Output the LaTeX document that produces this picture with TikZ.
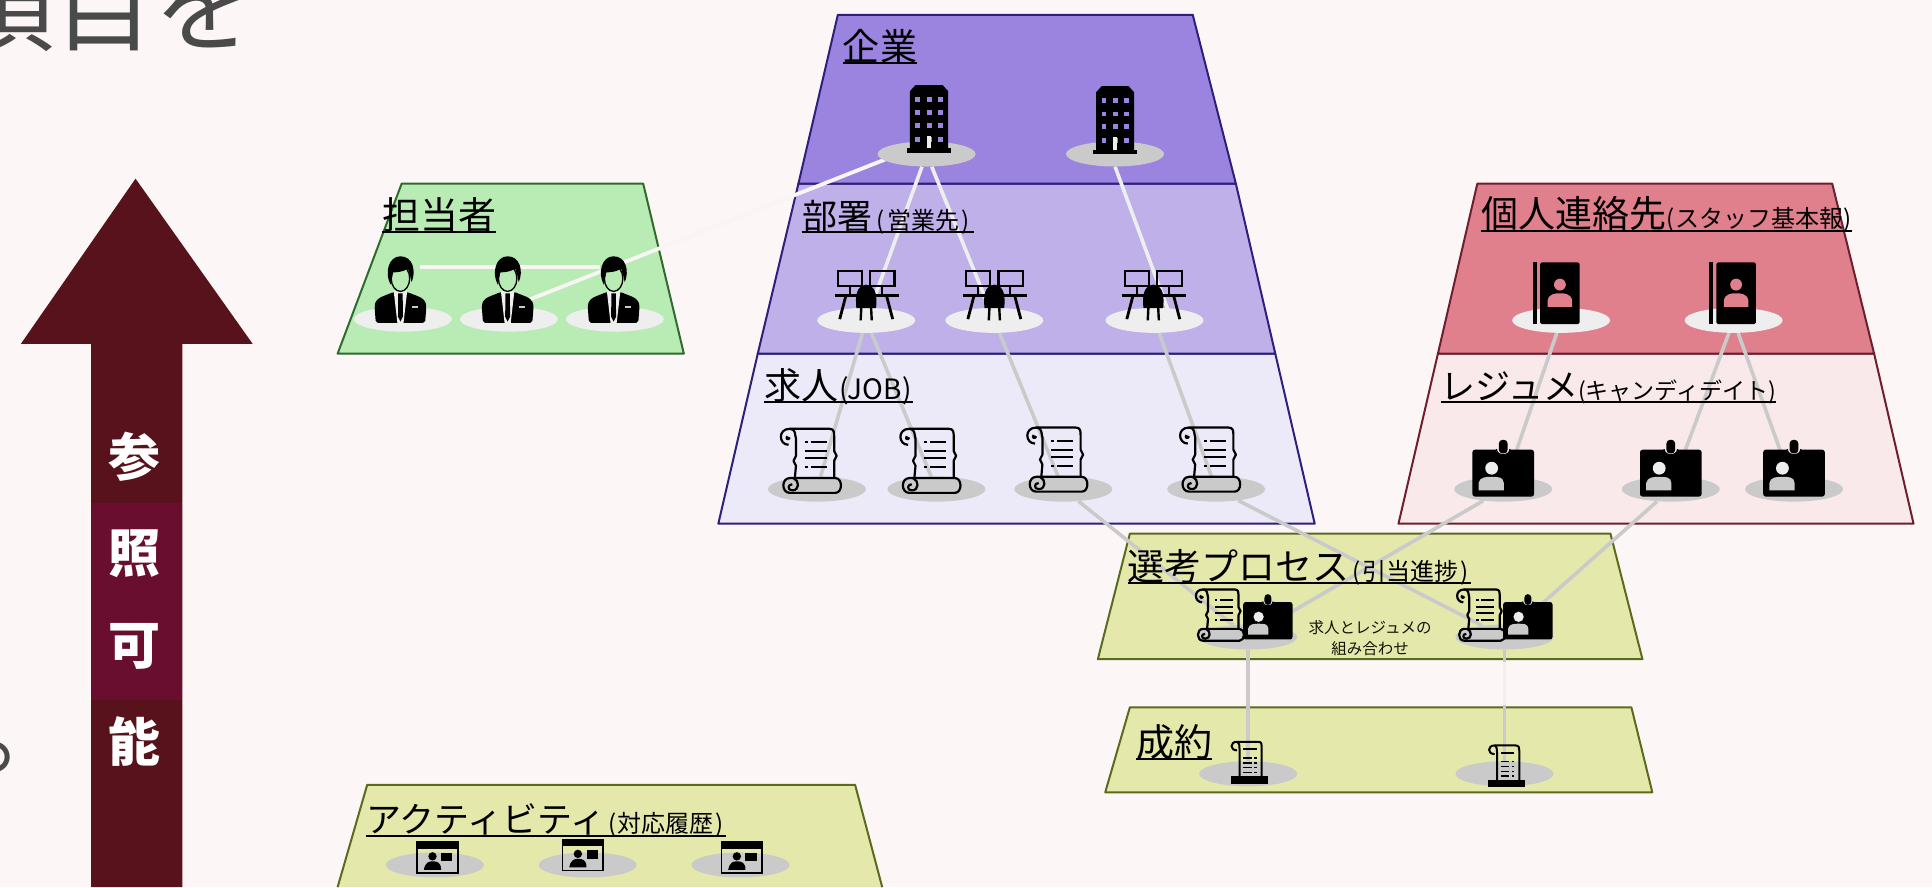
\documentclass[tikz,border=0pt]{standalone}
\usepackage{fontspec}
\setmainfont{Noto Sans CJK JP}
\usetikzlibrary{shapes.geometric,calc}
\definecolor{pagebg}{HTML}{FCF6F6}
\definecolor{titlegray}{HTML}{4A4A4A}
\definecolor{arrowdark}{HTML}{58121C}
\definecolor{arrowmid}{HTML}{6A0E30}
\definecolor{purpleA}{HTML}{9B84DF}
\definecolor{purpleB}{HTML}{BFB0E9}
\definecolor{purpleC}{HTML}{ECEAF8}
\definecolor{navyline}{HTML}{2E1F7A}
\definecolor{greenA}{HTML}{B8ECB4}
\definecolor{greenline}{HTML}{2F6B2F}
\definecolor{redA}{HTML}{E0808C}
\definecolor{redB}{HTML}{F9E9EA}
\definecolor{redline}{HTML}{6E1F2F}
\definecolor{oliveA}{HTML}{E4E8AA}
\definecolor{oliveline}{HTML}{5C6A1E}
\definecolor{ellD}{HTML}{CACACA}
\definecolor{ellL}{HTML}{EEEEEE}
\definecolor{paleLink}{HTML}{F8F5F3}
\pgfdeclarelayer{bglayer}
\pgfdeclarelayer{connlayer}
\pgfsetlayers{bglayer,connlayer,main}
\newcommand{\ulabel}[2]{\setbox0=\hbox{#1#2}\rlap{\rule[-3.6pt]{\wd0}{1.7pt}}\box0}
\newcommand{\bigt}[1]{{\fontsize{37pt}{37pt}\selectfont #1}}
\newcommand{\subt}[2][3pt]{{\fontsize{24pt}{24pt}\selectfont\hspace{#1}(\hspace{\dimexpr#1/2\relax}#2\hspace{\dimexpr#1/2\relax})\hspace{#1}}}
\tikzset{
  x=1.232pt,y=-1.232pt,
  tierbox/.style={line width=2pt,line join=round},
  ellD/.style={ellipse,fill=ellD,inner sep=0pt,minimum width=98pt,minimum height=25pt},
  ellL/.style={ellipse,fill=ellL,inner sep=0pt,minimum width=98pt,minimum height=25pt},
  lbl/.style={anchor=base west,inner sep=0pt,text=black},
  arrowtxt/.style={text=white,font=\fontsize{52pt}{52pt}\selectfont\bfseries,inner sep=0pt},
  linkL/.style={draw=ellL,line width=3.6pt},
  linkD/.style={draw=ellD,line width=3.6pt},
  linkW/.style={draw=paleLink,line width=3.8pt},
  pics/building/.style={code={
    \fill[black] (-18,0) rectangle (18,-3.5);
    \fill[black] (-15.5,-2) -- (-15.5,-50) -- (-11,-55) -- (11,-55) -- (15.5,-50) -- (15.5,-2) -- cycle;
    \foreach \yy in {-43.5,-32.5,-22,-11}{\foreach \xx in {-9,0,9}{\fill[#1] (\xx-2,\yy-2) rectangle (\xx+2,\yy+2);}}
    \fill[ellL] (-1.8,-14) rectangle (1.8,-3.5);
  }},
  pics/desks/.style={code={
    \draw[black,line width=2.2pt] (-23,-40) rectangle (-3.3,-27.6);
    \draw[black,line width=2.2pt] (3.3,-40) rectangle (23,-27.6);
    \draw[black,line width=2.2pt] (-13,-27.6) -- (-13,-21) (13,-27.6) -- (13,-21);
    \draw[black,line width=2.8pt] (-25.5,-20.5) -- (-6,-20.5) (6,-20.5) -- (26.5,-20.5);
    \draw[black,line width=2.8pt] (-16.5,-20) -- (-21.5,-1) (16.5,-20) -- (21.5,-1);
    \fill[black] (-8,-10) .. controls (-9,-20) and (-8,-28) .. (0,-29) .. controls (8,-28) and (9,-20) .. (8,-10) -- cycle;
    \draw[black,line width=2.4pt] (-4,-10) -- (-4.5,0) (4,-10) -- (4.5,0);
  }},
  pics/scroll/.style={code={
    \begin{scope}[black,line width=2.2pt,line join=round]
    \draw (-18,-39) .. controls (-26,-39) and (-27,-52) .. (-17,-52) -- (15,-52) .. controls (19,-52) and (19,-49) .. (19,-46) -- (19,-34) -- (21,-30) -- (19,-26) -- (19,-12);
    \draw (-17,-52) .. controls (-12,-52) and (-13,-47) .. (-12,-44) -- (-12,-30) -- (-14,-26) -- (-12,-22) -- (-13,-11);
    \draw (-19,-46) .. controls (-21,-44) and (-18,-42) .. (-17,-45);
    \filldraw[fill=ellD] (-17,0) -- (20,0) .. controls (26,0) and (26,-12) .. (20,-12) -- (-17,-12) .. controls (-24,-12) and (-24,0) .. (-17,0) -- cycle;
    \draw (-14,-12) .. controls (-9,-10) and (-9,-2) .. (-15,-2) .. controls (-19,-2) and (-19,-7) .. (-15,-7);
    \end{scope}
    \foreach \yy/\aa in {-41/1,-34/0,-28/0,-21/1}{
      \ifnum\aa=1
        \draw[black,line width=1.9pt] (-5,\yy) -- (-2.5,\yy) (0,\yy) -- (13,\yy);
      \else
        \draw[black,line width=1.9pt] (-5,\yy) -- (13,\yy);
      \fi}
  }},
  pics/badge/.style={code={
    \fill[black,rounded corners=2.5pt] (-25,0) rectangle (25,-38);
    \draw[ellL,line width=1.2pt] (-5.5,-38.5) .. controls (-5.5,-32.5) and (5.5,-32.5) .. (5.5,-38.5);
    \fill[black,rounded corners=3.5pt] (-3.5,-35) rectangle (3.5,-46);
    \fill[ellL] (-9.4,-23) circle[radius=5.2];
    \fill[ellD] (-20,-5) -- (-20,-11) .. controls (-19,-16) and (-14,-16) .. (-9.5,-16) .. controls (-4,-16) and (0,-16) .. (0.5,-11) -- (0.5,-5) -- cycle;
    \draw[ellD,line width=1.8pt] (5,-23) -- (20,-23) (5,-15) -- (20,-15) (5,-7) -- (20,-7);
  }},
  pics/book/.style={code={
    \fill[black] (-19,0) rectangle (-15.5,-50);
    \fill[black,rounded corners=1.5pt] (-13,0) rectangle (19,-50);
    \fill[#1] (3,-32) circle[radius=4.8];
    \fill[#1] (-7,-14) -- (-7,-19) .. controls (-6,-25) and (0,-25) .. (3,-25) .. controls (6,-25) and (12,-25) .. (13,-19) -- (13,-14) -- cycle;
  }},
  pics/person/.style={code={
    \fill[black,rounded corners=2pt] (-20,0) -- (-21,-13) .. controls (-20,-21) and (-12,-22) .. (-6,-25) -- (6,-25) .. controls (12,-22) and (20,-21) .. (21,-13) -- (20,0) -- cycle;
    \fill[ellL] (-5.5,-26) -- (5.5,-26) -- (2.5,0) -- (-2.5,0) -- cycle;
    \fill[black] (-1.8,-24) -- (1.8,-24) -- (2,-5) -- (0,-1) -- (-2,-5) -- cycle;
    \filldraw[fill=#1,draw=black,line width=1.3pt] (0,-36) ellipse[x radius=7.5,y radius=10.5];
    \fill[black] (-8,-31) .. controls (-13,-40) and (-10,-54) .. (0,-54) .. controls (10,-54) and (13,-42) .. (9,-33) .. controls (8,-38) and (7,-42) .. (6,-44) .. controls (2,-41) and (-4,-41) .. (-6,-41) -- cycle;
    \fill[ellD] (9,-14) rectangle (14,-12);
  }},
  pics/shortscroll/.style={code={
    \fill[black] (-14,0) rectangle (16,-6);
    \draw[black,line width=2pt,line join=round] (-9,-27) .. controls (-15,-27) and (-15,-34) .. (-9,-34) -- (8,-34) .. controls (11,-34) and (11,-32) .. (11,-30) -- (11,-6) (-9,-34) .. controls (-7,-33) and (-7,-30) .. (-7,-28) -- (-7,-6);
    \draw[black,line width=1.6pt] (-4,-28) -- (7,-28);
    \foreach \yy in {-21,-17,-13,-9}{\draw[black,line width=1.6pt] (-4,\yy) -- (3,\yy) (5,\yy) -- (7,\yy);}
  }},
  pics/winicon/.style={code={
    \draw[black,line width=1.6pt] (-16.5,-25.5) rectangle (16.5,-0.5);
    \fill[black] (-17,-26) rectangle (17,-20);
    \fill[black] (-4,-14) circle[radius=3.4];
    \fill[black] (-11,-3) .. controls (-10,-9) and (-7,-10) .. (-4,-10) .. controls (0,-10) and (3,-9) .. (3,-3) -- cycle;
    \fill[black] (3,-17) rectangle (12,-10);
  }},
}
\begin{document}
\begin{tikzpicture}
\useasboundingbox (0,0) rectangle (1568,720);
\begin{pgfonlayer}{bglayer}
  \fill[pagebg] (0,0) rectangle (1568,720);
  % arrow
  \fill[arrowdark] (110,145) -- (205,279) -- (148,279) -- (148,720) -- (74,720) -- (74,279) -- (17,279) -- cycle;
  \fill[arrowmid] (74,408) rectangle (148,568);
  % tiers
  \filldraw[tierbox,fill=purpleC,draw=navyline] (615,287) -- (1035,287) -- (1067,425) -- (583,425) -- cycle;
  \filldraw[tierbox,fill=purpleB,draw=navyline] (648,149) -- (1003,149) -- (1035,287) -- (615,287) -- cycle;
  \filldraw[tierbox,fill=purpleA,draw=navyline] (680,12) -- (968,12) -- (1003,149) -- (648,149) -- cycle;
  \filldraw[tierbox,fill=greenA,draw=greenline] (326,149) -- (522,149) -- (555,287) -- (274,287) -- cycle;
  \filldraw[tierbox,fill=redB,draw=redline] (1167,287) -- (1521,287) -- (1553,425) -- (1135,425) -- cycle;
  \filldraw[tierbox,fill=redA,draw=redline] (1199,149) -- (1487,149) -- (1521,287) -- (1167,287) -- cycle;
  \filldraw[tierbox,fill=oliveA,draw=oliveline] (917,433) -- (1307,433) -- (1333,535) -- (891,535) -- cycle;
  \filldraw[tierbox,fill=oliveA,draw=oliveline] (917,574) -- (1324,574) -- (1341,643) -- (897,643) -- cycle;
  \fill[oliveA] (298,637) -- (694,637) -- (716,720) -- (274,720) -- cycle;
  \draw[tierbox,draw=oliveline] (274,720) -- (298,637) -- (694,637) -- (716,720);
\end{pgfonlayer}

% title fragments
\node[anchor=base,inner sep=0pt,text=titlegray,font=\fontsize{100pt}{100pt}\selectfont] (title) at (85,35) {項目を};
\node[anchor=base west,inner sep=0pt,text=titlegray,font=\fontsize{100pt}{100pt}\selectfont] (stop) at (-20,622) {。};

% arrow text
\node[arrowtxt] (a1) at (109,371) {参};
\node[arrowtxt] (a2) at (109,449) {照};
\node[arrowtxt] (a3) at (109,525) {可};
\node[arrowtxt] (a4) at (109,602) {能};

% ellipses
\node[ellD] (c1) at (752,125) {};
\node[ellD] (c2) at (905,125) {};
\node[ellL] (d1) at (703,260) {};
\node[ellL] (d2) at (807,260) {};
\node[ellL] (d3) at (937,260) {};
\node[ellD] (j1) at (663,397) {};
\node[ellD] (j2) at (760,397) {};
\node[ellD] (j3) at (863,397) {};
\node[ellD] (j4) at (987,397) {};
\node[ellL] (t1) at (327,259) {};
\node[ellL] (t2) at (413,259) {};
\node[ellL] (t3) at (499,259) {};
\node[ellL] (b1) at (1267,260) {};
\node[ellL] (b2) at (1407,260) {};
\node[ellD] (r1) at (1220,397) {};
\node[ellD] (r2) at (1356,397) {};
\node[ellD] (r3) at (1456,397) {};
\node[ellD] (s1) at (1013,517) {};
\node[ellD] (s2) at (1221,517) {};
\node[ellD] (f1) at (1013,628) {};
\node[ellD] (f2) at (1221,628) {};
\node[ellD] (v1) at (353,702) {};
\node[ellD] (v2) at (477,702) {};
\node[ellD] (v3) at (601,702) {};

% connectors
\begin{pgfonlayer}{connlayer}
  \draw[linkL] (c1) -- (d1);
  \draw[linkL] (c1) -- (d2);
  \draw[linkL] (c2.south) -- ($(d3.center)+(14,0)$);
  \draw[linkD] (d1) -- (j1);
  \draw[linkD] (d1) -- (j2);
  \draw[linkD] (d2) -- (j3);
  \draw[linkD] (d3) -- (j4);
  \draw[linkD] (b1) -- (r1);
  \draw[linkD] (b2) -- (r2);
  \draw[linkD] (b2) -- (r3);
  \draw[linkD] (j3) -- (s1);
  \draw[linkD] (j4) -- (s2);
  \draw[linkD] (r1) -- (s1);
  \draw[linkD] (r2) -- (s2);
  \draw[linkD] (s1) -- (f1);
  \draw[linkD] (s2) -- (f2);
  \draw[pagebg,line width=4pt,opacity=.85] ($(s2.center)+(0,20)$) -- ($(s2.center)+(0,55)$);
  \draw[linkW] ($(c1.center)+(-30,3)$) -- ($(t2.center)+(17,-16)$);
  \draw[linkW] ($(t1.center)+(14,-42)$) -- ($(t3.center)+(-12,-42)$);
\end{pgfonlayer}

% icons
\pic at (754,124) {building=purpleA};
\pic at (905,125) {building=purpleA};
\pic at (703,260) {desks};
\pic at (807,260) {desks};
\pic at (936,260) {desks};
\pic at (658,400) {scroll};
\pic at (755,400) {scroll};
\pic at (858,399) {scroll};
\pic at (982,399) {scroll};
\pic at (325,262) {person=greenA};
\pic at (412,262) {person=greenA};
\pic at (498,262) {person=greenA};
\pic at (1263,263) {book=redA};
\pic at (1406,263) {book=redA};
\pic at (1220,403) {badge};
\pic at (1356,403) {badge};
\pic at (1456,403) {badge};
\pic[scale=.8] at (990,520) {scroll};
\pic[scale=.8] at (1202,520) {scroll};
\pic[scale=.8] at (1029,519) {badge};
\pic[scale=.8] at (1240,519) {badge};
\pic at (1013,636) {shortscroll};
\pic at (1222,639) {shortscroll};
\pic at (355,709) {winicon};
\pic at (473,707) {winicon};
\pic at (602,709) {winicon};

% labels
\node[lbl] (l1) at (684,49) {\ulabel{\bigt{企業}}{}};
\node[lbl] (l2) at (651,186) {\ulabel{\fontsize{35pt}{35pt}\selectfont 部署}{\subt[4.4pt]{営業先}}};
\node[lbl] (l3) at (620,324) {\ulabel{\bigt{求人}}{\fontsize{28pt}{28pt}\selectfont\hspace{1pt}(JOB)\hspace{1pt}}};
\node[lbl] (l4) at (310,186) {\ulabel{\fontsize{38pt}{38pt}\selectfont 担当者}{}};
\node[lbl] (l5) at (1202,185) {\ulabel{\bigt{個人連絡先}}{\subt[0.6pt]{スタッフ基本報}}};
\node[lbl] (l6) at (1169,324) {\ulabel{\fontsize{35pt}{35pt}\selectfont レジュメ}{\fontsize{23pt}{23pt}\selectfont (キャンディデイト)}};
\node[lbl] (l7) at (915,471) {\ulabel{\bigt{選考プロセス}}{\subt[3.2pt]{引当進捗}}};
\node[lbl] (l8) at (922,614) {\ulabel{\fontsize{38pt}{38pt}\selectfont 成約}{}};
\node[lbl] (l9) at (297,676) {\ulabel{\fontsize{35pt}{35pt}\selectfont アクティビティ}{\subt[3pt]{対応履歴}}};
\node[inner sep=0pt,text=black!80!oliveline,align=center,font=\fontsize{15.5pt}{21pt}\selectfont] (l10) at (1112,518) {求人とレジュメの\\組み合わせ};
\end{tikzpicture}
\end{document}
